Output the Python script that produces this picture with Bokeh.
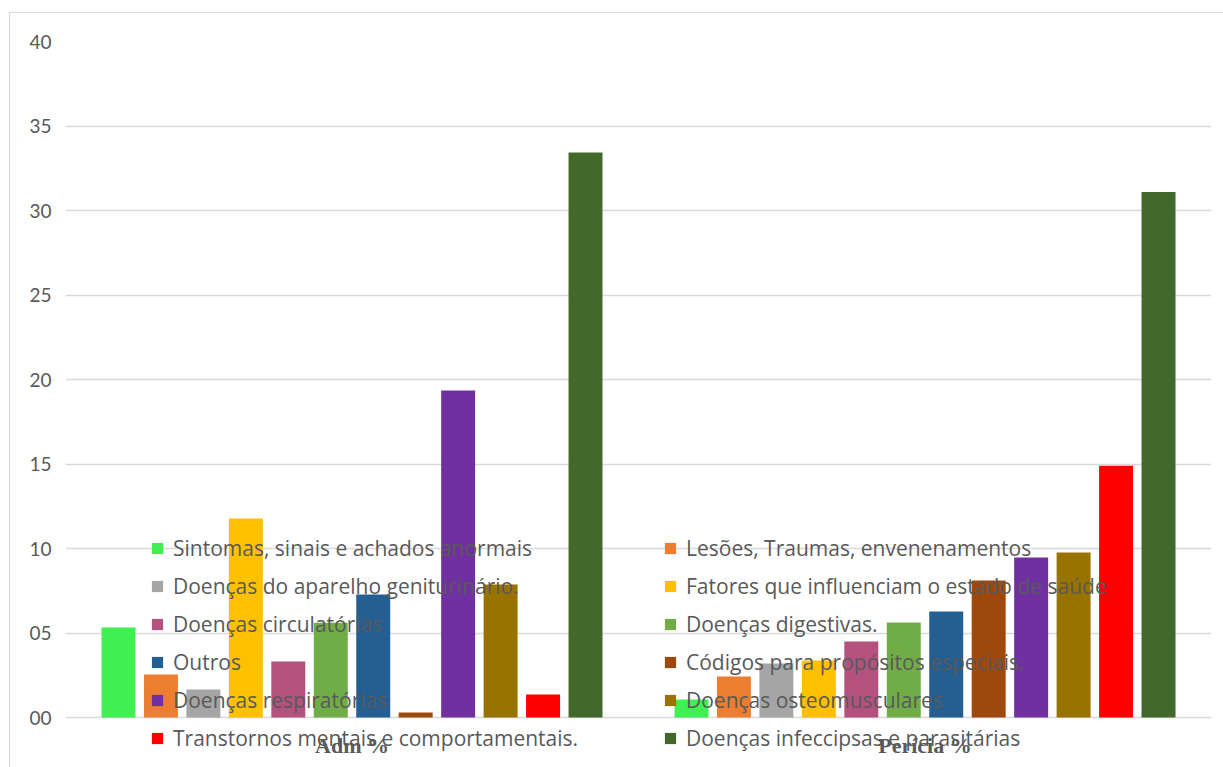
from bokeh.plotting import figure
from bokeh.models import (ColumnDataSource, FactorRange, Range1d, FixedTicker,
                          Legend, LegendItem, InlineStyleSheet)
from bokeh.core.properties import value
from bokeh.transform import dodge
from bokeh.embed import file_html
from bokeh.resources import INLINE

categories = ["Adm %", "Perícia %"]

series_names = [
    "Sintomas, sinais e achados anormais",
    "Lesões, Traumas, envenenamentos",
    "Doenças do aparelho geniturinário.",
    "Fatores que influenciam o estado de saúde",
    "Doenças circulatórias",
    "Doenças digestivas.",
    "Outros",
    "Códigos para propósitos especiais.",
    "Doenças respiratórias",
    "Doenças osteomusculares",
    "Transtornos mentais e comportamentais.",
    "Doenças infeccipsas e parasitárias",
]

sintomas = [5.33, 1.07]
lesoes = [2.54, 2.43]
geniturinario = [1.66, 3.2]
fatores = [11.78, 3.37]
circulatorias = [3.31, 4.5]
digestivas = [5.6, 5.62]
outros = [7.28, 6.27]
codigos = [0.3, 8.1]
respiratorias = [19.35, 9.47]
osteomusculares = [7.87, 9.76]
transtornos = [1.36, 14.9]
infecciosas = [33.43, 31.1]

series_values = [sintomas, lesoes, geniturinario, fatores, circulatorias, digestivas,
                 outros, codigos, respiratorias, osteomusculares, transtornos, infecciosas]

colors = ["#40F052", "#ED7D31", "#A5A5A5", "#FFC000", "#B4527F", "#70AD47",
          "#255E91", "#9E480E", "#7030A0", "#997300", "#FF0000", "#43682B"]

y_ticks = [0, 5, 10, 15, 20, 25, 30, 35, 40]
y_tick_labels = ["00", "05", "10", "15", "20", "25", "30", "35", "40"]

data = {"cat": categories}
keys = []
for i, vals in enumerate(series_values):
    k = "s%d" % i
    keys.append(k)
    data[k] = vals
source = ColumnDataSource(data)

# frame extends below zero so the overlapping legend and category labels fit inside it
Y_MIN = -2.485
LABEL_Y = -1.66

p = figure(width=1215, height=759, x_range=FactorRange(factors=categories, range_padding=0),
           y_range=Range1d(Y_MIN, 40), output_backend="svg", toolbar_location=None,
           min_border_left=65, min_border_top=41, min_border_right=4, min_border_bottom=0)
p.outline_line_color = None
p.background_fill_color = "white"
p.border_fill_color = "white"
p.stylesheets = [InlineStyleSheet(css=(
    ":host::after {content: ''; position: absolute; left: 9px; top: 12px; "
    "width: 3000px; height: 3000px; border-left: 1.5px solid #D9D9D9; "
    "border-top: 1.5px solid #D9D9D9; pointer-events: none;}"
))]

slot = 0.0741
bar_w = 0.0593
renderers = []
for i, k in enumerate(keys):
    r = p.vbar(x=dodge("cat", (i - 5.5) * slot, range=p.x_range), bottom=0, top=k,
               width=bar_w, source=source, color=colors[i], line_color=None)
    renderers.append(r)

p.yaxis.ticker = FixedTicker(ticks=y_ticks)
p.yaxis.major_label_overrides = {t: l for t, l in zip(y_ticks, y_tick_labels)}
p.yaxis.axis_line_color = None
p.yaxis.major_tick_line_color = None
p.yaxis.minor_tick_line_color = None
p.yaxis.major_label_text_font = "Lato"
p.yaxis.major_label_text_font_size = "19px"
p.yaxis.major_label_text_color = "#595959"
p.yaxis.major_label_standoff = 8

p.xaxis.visible = False
p.xgrid.grid_line_color = None
p.ygrid.grid_line_color = "#D9D9D9"
p.ygrid.grid_line_width = 1.5

# category labels
p.text(x=categories, y=[LABEL_Y] * len(categories), text=categories,
       text_align="center", text_baseline="middle",
       text_font=value("Liberation Serif"), text_font_style="bold",
       text_font_size="22px", text_color="#595959")

def make_legend(idx, x, y):
    items = [LegendItem(label=series_names[i], renderers=[renderers[i]]) for i in idx]
    lg = Legend(items=items, location=(x, y), orientation="vertical",
                label_text_font="Open Sans", label_text_font_size="21px",
                label_text_color="#595959", glyph_width=14, glyph_height=14,
                label_standoff=9, spacing=10, padding=0, margin=0,
                border_line_color=None, background_fill_alpha=0)
    return lg

p.add_layout(make_legend([0, 2, 4, 6, 8, 10], 85, 7), "center")
p.add_layout(make_legend([1, 3, 5, 7, 9, 11], 598, 7), "center")

open("out.html", "w").write(file_html(p, INLINE))
